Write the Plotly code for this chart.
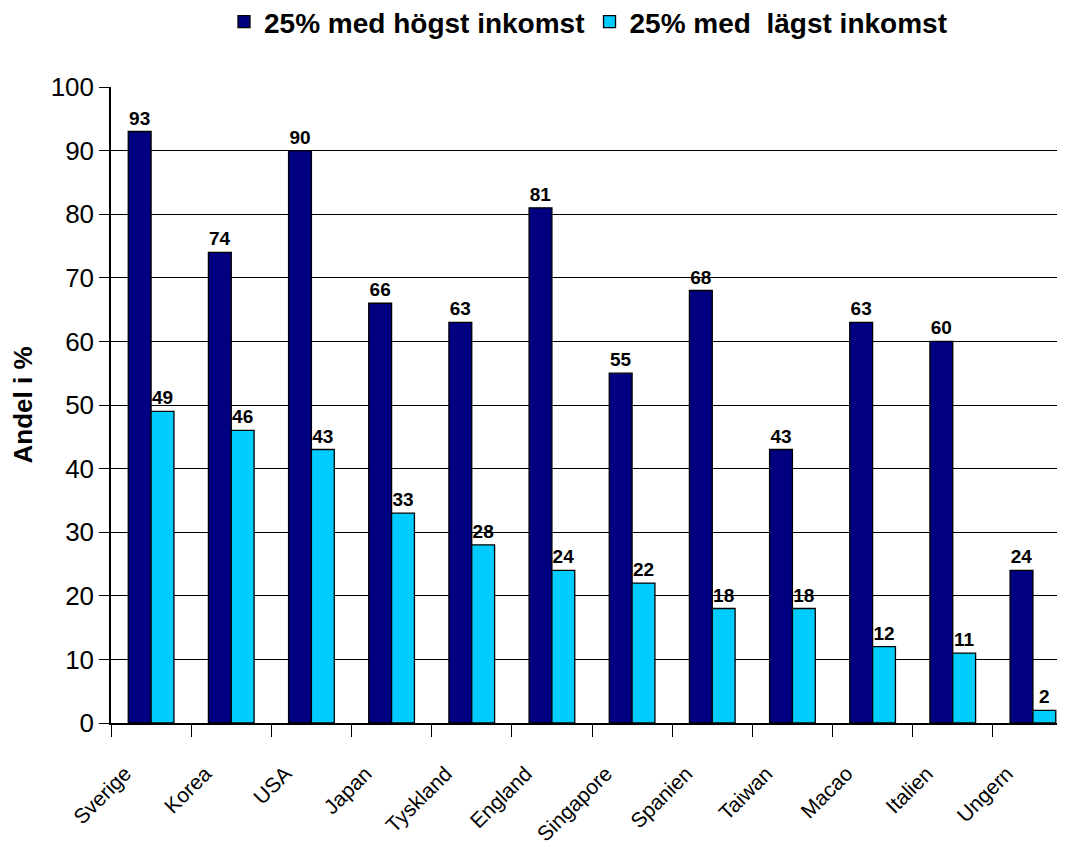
import plotly.graph_objects as go

countries = ["Sverige", "Korea", "USA", "Japan", "Tyskland", "England", "Singapore",
             "Spanien", "Taiwan", "Macao", "Italien", "Ungern"]
high = [93, 74, 90, 66, 63, 81, 55, 68, 43, 63, 60, 24]
low = [49, 46, 43, 33, 28, 24, 22, 18, 18, 12, 11, 2]
series_names = ["25% med högst inkomst", "25% med  lägst inkomst"]

font_family = "Liberation Sans, Arial, sans-serif"

W, H = 1057, 839
L, T, B = 103, 79, 124
plot_h = H - T - B

fig = go.Figure()
fig.add_trace(go.Bar(
    x=countries, y=high, name=series_names[0],
    marker=dict(color="#000080", line=dict(color="black", width=1.3)),
    text=high, textposition="outside", constraintext="none", cliponaxis=False,
    textfont=dict(family=font_family, size=19, color="black", weight="bold"),
))
fig.add_trace(go.Bar(
    x=countries, y=low, name=series_names[1],
    marker=dict(color="#00CCFF", line=dict(color="black", width=1.3)),
    text=low, textposition="outside", constraintext="none", cliponaxis=False,
    textfont=dict(family=font_family, size=19, color="black", weight="bold"),
))

fig.update_layout(
    width=W, height=H,
    paper_bgcolor="white", plot_bgcolor="white",
    margin=dict(l=L, r=0, t=T, b=B, autoexpand=False),
    barmode="group", bargap=0.43, bargroupgap=0,
    font=dict(family=font_family, color="black"),
    showlegend=True,
    legend=dict(orientation="h", x=0.5, xanchor="center",
                y=1 + (T - 14) / plot_h, yanchor="middle",
                yref="paper", font=dict(size=28, weight="bold"),
                itemwidth=30, traceorder="normal"),
    yaxis=dict(range=[0, 100], dtick=10, showgrid=True, gridcolor="black", gridwidth=1,
               showline=True, linecolor="black", linewidth=1.5, automargin=False,
               ticks="outside", ticklen=10, tickcolor="black", tickwidth=1.3,
               tickfont=dict(size=26), zeroline=False,
               title=dict(text="Andel i %", font=dict(size=26, weight="bold"), standoff=22)),
    xaxis=dict(type="category", range=[-0.5, 11.4], showline=True, linecolor="black",
               linewidth=2, ticks="outside", tickson="boundaries", ticklen=12,
               tickcolor="black", tickwidth=1.3, tickangle=-45, automargin=False,
               tickfont=dict(size=21), ticklabelshift=-26, ticklabelstandoff=28),
)

fig.write_html("out.html")
